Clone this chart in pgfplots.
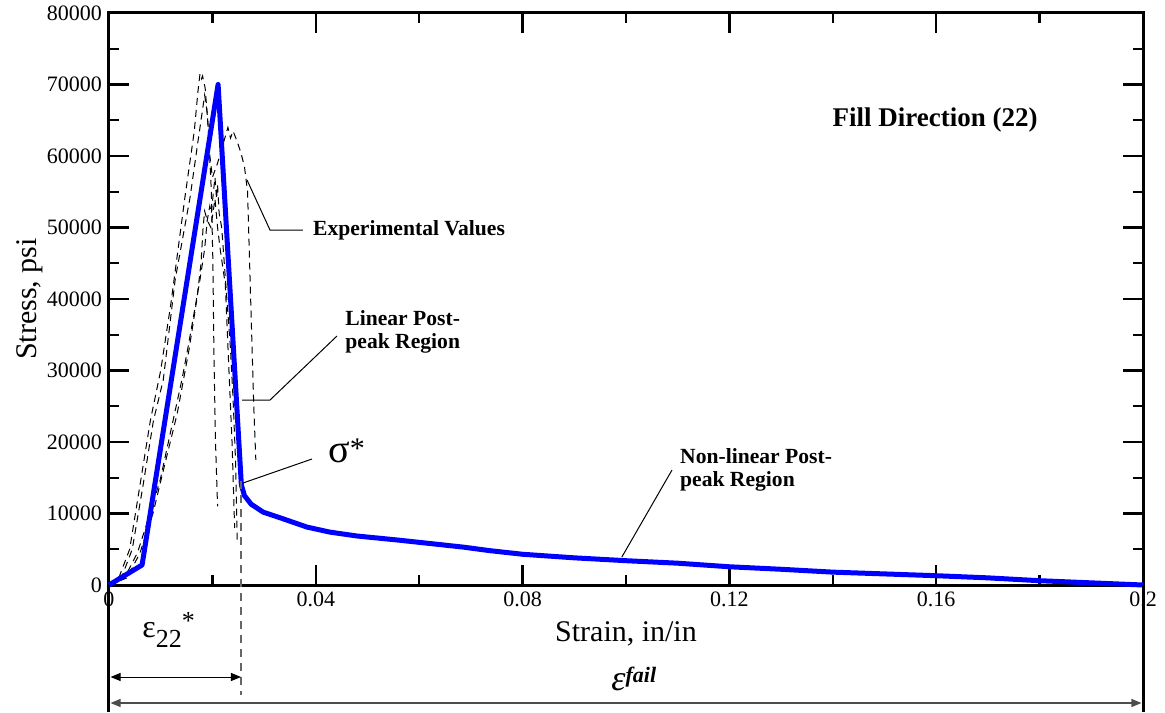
\documentclass[border=0pt]{standalone}
\usepackage{pgfplots}
\pgfplotsset{compat=1.18}
\usepackage{fontspec}
\setmainfont{Liberation Serif}
\usetikzlibrary{arrows.meta}
\begin{document}
\begin{tikzpicture}
\begin{axis}[
  at={(0,0)}, anchor=south west,
  scale only axis, width=517pt, height=286pt,
  xmin=0, xmax=0.2, ymin=0, ymax=80000,
  xtick={0,0.04,0.08,0.12,0.16,0.2},
  xticklabels={0,0.04,0.08,0.12,0.16,0.2},
  ytick={0,10000,20000,30000,40000,50000,60000,70000,80000},
  yticklabels={0,10000,20000,30000,40000,50000,60000,70000,80000},
  minor x tick num=1, minor y tick num=1,
  scaled x ticks=false, scaled y ticks=false,
  tick align=inside,
  major tick length=10pt, minor tick length=5pt,
  every tick/.style={black, line width=1.2pt},
  axis line style={line width=1.5pt},
  tick label style={font=\fontsize{11}{11}\selectfont},
  clip=false,
]
% experimental curves
\addplot[black, line width=0.5pt, dash pattern=on 3.5pt off 2.5pt] coordinates {
(0,0) (0.002,1200) (0.004,5000) (0.006,14000) (0.008,23000) (0.010,30000) (0.012,39500) (0.0147,54300) (0.0165,63500) (0.0172,69000) (0.0176,71500) (0.0179,70800) (0.0181,71200) (0.0186,69500) (0.0192,64000) (0.0198,55000) (0.0201,45000) (0.0203,32000) (0.0206,20000) (0.021,11000)};
\addplot[black, line width=0.5pt, dash pattern=on 3.5pt off 2.5pt] coordinates {
(0,0) (0.0025,1200) (0.0045,5000) (0.0066,14000) (0.0086,23000) (0.0105,28700) (0.0128,42700) (0.0157,54300) (0.0172,62000) (0.0185,68500) (0.019,66000) (0.0195,60000) (0.020,57000) (0.021,59000) (0.0222,62000) (0.023,64000) (0.0235,62500) (0.024,63500) (0.0248,62000) (0.0255,60500) (0.0262,58500) (0.0268,55000) (0.0272,45000) (0.0276,35000) (0.028,25000) (0.0284,17500)};
\addplot[black, line width=0.5pt, dash pattern=on 3.5pt off 2.5pt] coordinates {
(0,0) (0.003,1000) (0.0055,4500) (0.0075,9000) (0.0099,14700) (0.0141,28700) (0.0153,33300) (0.0176,42700) (0.0185,47000) (0.019,51000) (0.0195,53000) (0.0198,52000) (0.0202,55000) (0.0205,57000) (0.0208,54000) (0.021,56000) (0.0213,52000) (0.0218,50000) (0.0222,46000) (0.0228,40000) (0.0235,33000) (0.024,26000) (0.0245,17000) (0.0248,6000)};
\addplot[black, line width=0.5pt, dash pattern=on 3.5pt off 2.5pt] coordinates {
(0,0) (0.0035,1000) (0.006,4500) (0.0085,10000) (0.0105,16000) (0.0132,24000) (0.0155,33000) (0.017,40000) (0.0178,45000) (0.0182,50000) (0.0185,52300) (0.019,51000) (0.0197,50000) (0.0205,54000) (0.021,50000) (0.0215,47000) (0.0225,42000) (0.0232,30000) (0.0238,20000) (0.0243,8000)};
% model curve
\addplot[blue, line width=2.5pt, line join=round] coordinates {
(0,0) (0.0064,2800) (0.0211,70000) (0.0256,14000) (0.0262,12500) (0.0275,11300) (0.0298,10200) (0.0331,9400) (0.0383,8100) (0.0427,7400) (0.048,6850) (0.0557,6300) (0.0634,5700) (0.0685,5300) (0.0737,4800) (0.08,4300) (0.09,3800) (0.1,3400) (0.11,3050) (0.12,2550) (0.13,2200) (0.14,1800) (0.15,1550) (0.16,1300) (0.17,1000) (0.18,600) (0.19,300) (0.2,0)};
% annotations
\node[font=\bfseries\fontsize{13.5}{14}\selectfont] at (axis cs:0.1598,65000) {Fill Direction (22)};
\draw[line width=0.5pt] (axis cs:0.0267,56640) -- (axis cs:0.03114,49650) -- (axis cs:0.03752,49650);
\node[anchor=west, inner sep=0pt, font=\bfseries\fontsize{10.8}{12}\selectfont] at (axis cs:0.0394,49650) {Experimental Values};
\draw[line width=0.5pt] (axis cs:0.02573,25870) -- (axis cs:0.03114,25870) -- (axis cs:0.0441,34825);
\node[anchor=west, inner sep=0pt, align=left, font=\bfseries\fontsize{10.8}{11.5}\selectfont] at (axis cs:0.04565,35400) {Linear Post-\\peak Region};
\draw[line width=0.5pt] (axis cs:0.02592,14265) -- (axis cs:0.03926,17620);
\node[anchor=base west, inner sep=0pt] at (axis cs:0.04236,17203) {\fontsize{20}{20}\selectfont σ\raisebox{2pt}{\fontsize{15}{15}\selectfont *}};
\draw[line width=0.5pt] (axis cs:0.0992,3915) -- (axis cs:0.1089,16084);
\node[anchor=west, inner sep=0pt, align=left, font=\bfseries\fontsize{10.8}{11.5}\selectfont] at (axis cs:0.1104,16084) {Non-linear Post-\\peak Region};
% axis labels
\node[rotate=90, font=\fontsize{15}{15}\selectfont] at (axis cs:-0.01528,40000) {Stress, psi};
\node[font=\fontsize{15}{15}\selectfont] at (axis cs:0.1,-6850) {Strain, in/in};
% below-axis dimension lines
\draw[line width=1.5pt] (axis cs:0,0) -- (axis cs:0,-17762);
\draw[line width=1.5pt] (axis cs:0.2,0) -- (axis cs:0.2,-17762);
\draw[black!60, line width=0.7pt, dash pattern=on 4pt off 3pt] (axis cs:0.02553,14500) -- (axis cs:0.02553,-15385);
\draw[line width=0.5pt, {Triangle[length=5pt,width=4pt]}-{Triangle[length=5pt,width=4pt]}] (axis cs:0.0003,-12867) -- (axis cs:0.02553,-12867);
\draw[black!70, line width=0.6pt, {Triangle[length=5pt,width=4pt]}-{Triangle[length=5pt,width=4pt]}] (axis cs:0.0003,-16503) -- (axis cs:0.1997,-16503);
\node[anchor=base west, inner sep=0pt] at (axis cs:0.00638,-7343) {\fontsize{16}{16}\selectfont ε\raisebox{-5pt}{\fontsize{13}{13}\selectfont 22}\raisebox{4pt}{\fontsize{13}{13}\selectfont *}};
\node[anchor=base west, inner sep=0pt] at (axis cs:0.0971,-14685) {\fontsize{18}{18}\selectfont\itshape ε\raisebox{4pt}{\bfseries\itshape\fontsize{11}{11}\selectfont fail}};
\end{axis}
\pgfresetboundingbox
\useasboundingbox (-54.5pt,-63.5pt) rectangle (528pt,292.5pt);
\end{tikzpicture}
\end{document}
